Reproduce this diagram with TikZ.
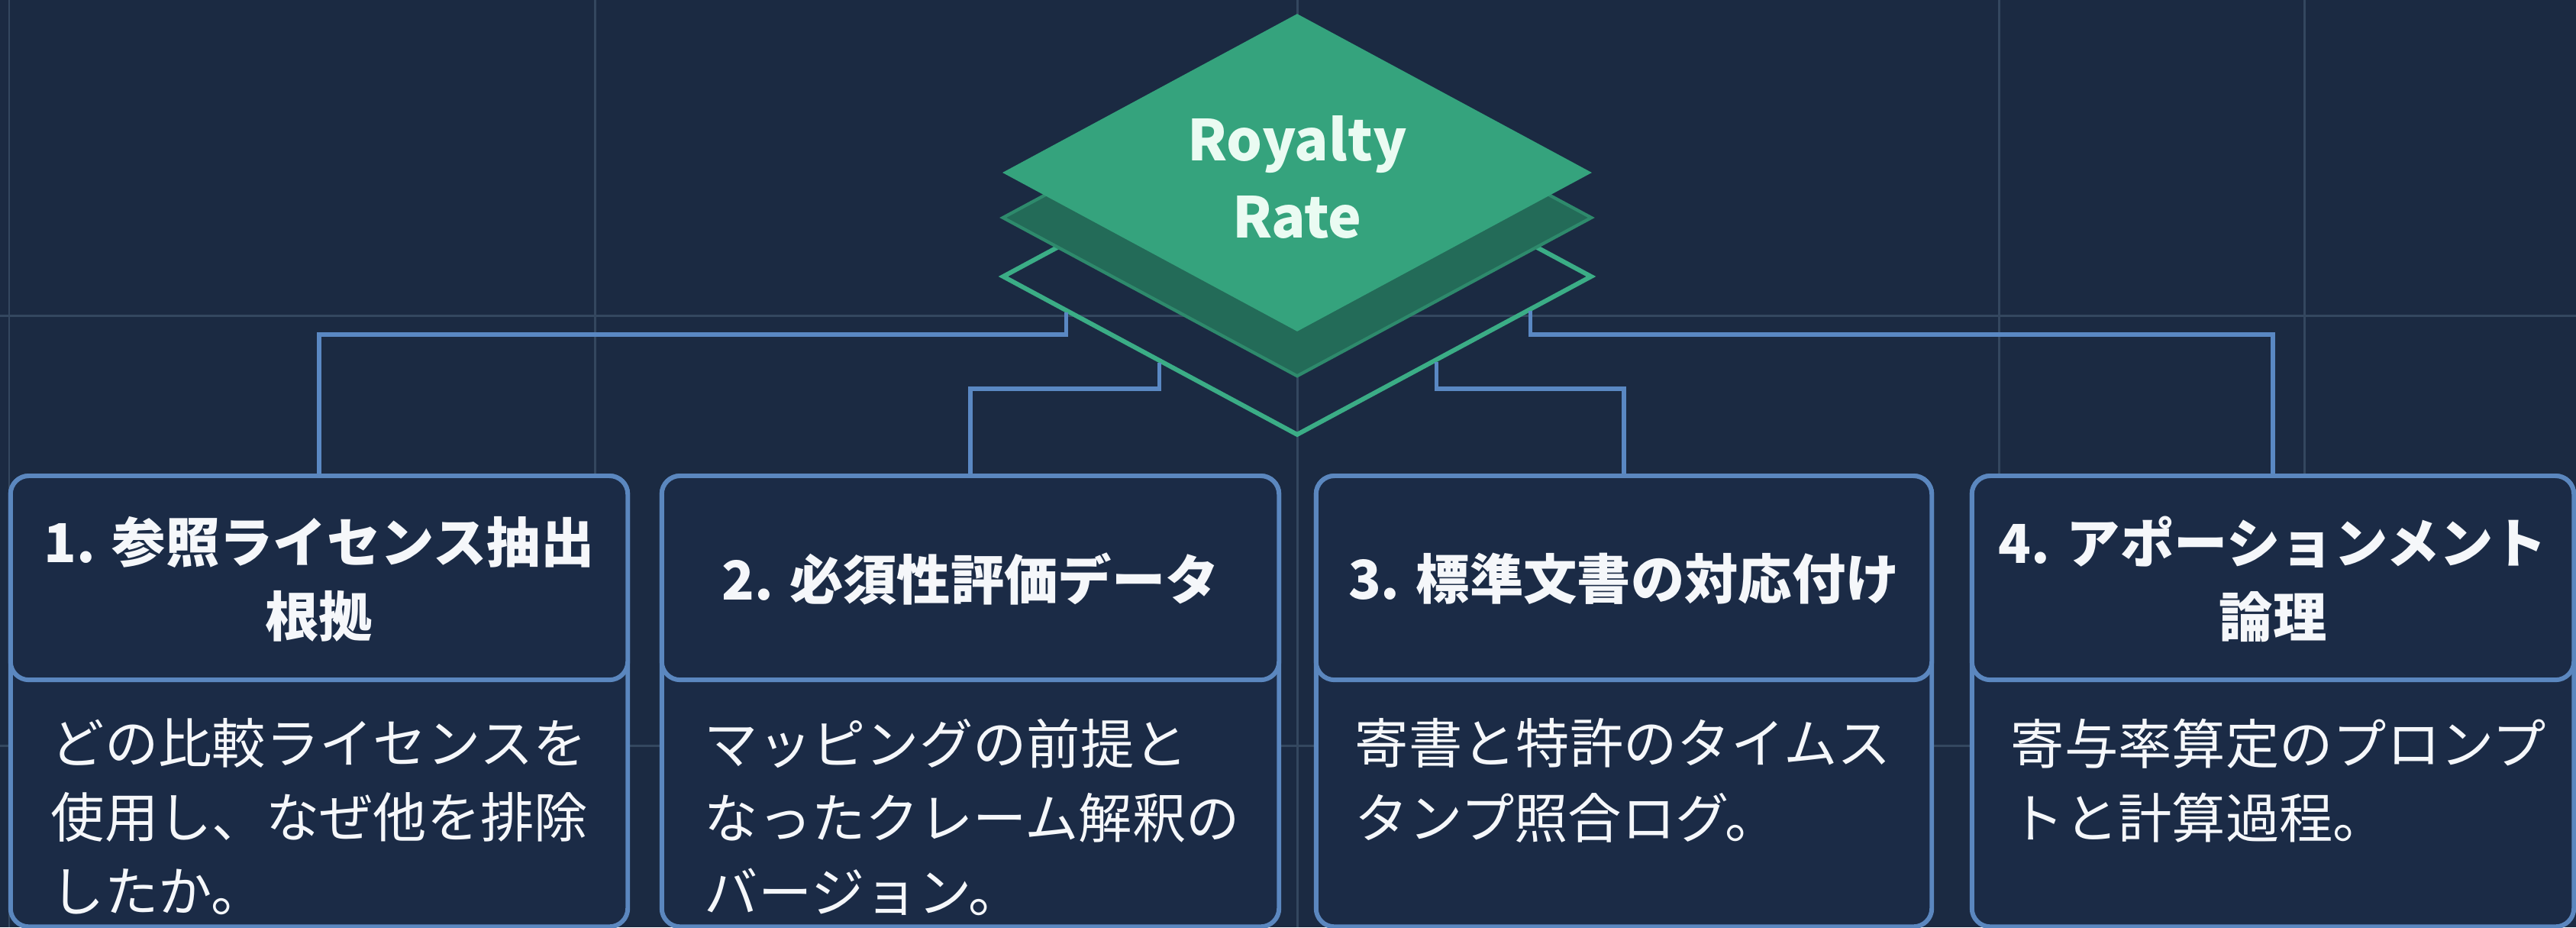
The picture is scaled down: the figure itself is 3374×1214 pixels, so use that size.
\documentclass[tikz,border=0pt]{standalone}
\usepackage{fontspec}
\setmainfont{Noto Sans CJK JP}
\usetikzlibrary{shapes.geometric,calc}
\definecolor{bg}{HTML}{1B2A42}
\definecolor{gridc}{HTML}{34475F}
\definecolor{connc}{HTML}{5A88C3}
\definecolor{boxc}{HTML}{5B87BF}
\definecolor{boxf}{HTML}{1B2B46}
\definecolor{topc}{HTML}{35A37D}
\definecolor{midc}{HTML}{236B58}
\definecolor{midb}{HTML}{2E8A6C}
\definecolor{outc}{HTML}{3BAD86}
\definecolor{textc}{HTML}{F5F7FA}
\definecolor{titlec}{HTML}{EAFBF2}
\tikzset{
  gridline/.style={draw=gridc, line width=0.85pt},
  conn/.style={draw=connc, line width=1.45pt},
  boxo/.style={draw=boxc, fill=boxf, line width=1.7pt, rounded corners=0.24cm, inner sep=0pt, minimum height=5.9cm, anchor=north},
  hdrbox/.style={draw=boxc, fill=boxf, line width=1.7pt, rounded corners=0.24cm, inner sep=0pt, minimum height=2.67cm, anchor=north},
  hdrt/.style={text=textc, font=\bfseries\fontsize{20}{27.6}\selectfont, align=center, inner sep=0pt},
  bodyt/.style={text=textc, font=\fontsize{20}{27.6}\selectfont, align=left, inner sep=0pt, anchor=north west},
  dia/.style={diamond, minimum width=7.72cm, minimum height=4.16cm, inner sep=0pt},
}
\begin{document}
\begin{tikzpicture}[x=0.01cm,y=-0.01cm]
\useasboundingbox (0,0) rectangle (3374,1214);
\fill[bg] (0,0) rectangle (3374,1214);
\clip (0,0) rectangle (3374,1214);
% grid
\foreach \gx in {12,779,1699,2618,3018} \draw[gridline] (\gx,0) -- (\gx,1214);
\foreach \gy in {413,976} \draw[gridline] (0,\gy) -- (3374,\gy);
% boxes (nodes defined first for connectors)
\node[boxo, minimum width=8.08cm] (box1) at (418,620) {};
\node[boxo, minimum width=8.08cm] (box2) at (1271,620) {};
\node[boxo, minimum width=8.06cm] (box3) at (2127,620) {};
\node[boxo, minimum width=7.88cm] (box4) at (2977,620) {};
\node[hdrbox, minimum width=8.08cm] (h1) at (418,620) {};
\node[hdrbox, minimum width=8.08cm] (h2) at (1271,620) {};
\node[hdrbox, minimum width=8.06cm] (h3) at (2127,620) {};
\node[hdrbox, minimum width=7.88cm] (h4) at (2977,620) {};
% diamond layers
\node[dia, draw=outc, line width=1.7pt] (base) at (1699,362) {};
\node[dia, fill=midc, draw=midb, line width=1.2pt] (mid) at (1699,285) {};
\node[dia, fill=topc] (top) at (1699,226) {};
\node[text=titlec, font=\bfseries\fontsize{21}{28.5}\selectfont, align=center, inner sep=0pt] (title) at (1699,232) {Royalty\\Rate};
% connectors
\coordinate (ja) at (0,438);
\coordinate (jb) at (0,509);
\coordinate (d1) at ($(base.west)!0.222!(base.south)$);
\coordinate (d2) at ($(base.west)!0.536!(base.south)$);
\coordinate (d3) at ($(base.east)!0.531!(base.south)$);
\coordinate (d4) at ($(base.east)!0.215!(base.south)$);
\draw[conn] (d1) -- (d1 |- ja) -| (box1.north);
\draw[conn] (d2) -- (d2 |- jb) -| (box2.north);
\draw[conn] (d3) -- (d3 |- jb) -| (box3.north);
\draw[conn] (d4) -- (d4 |- ja) -| (box4.north);
% header texts
\node[hdrt] (t1) at (418,758) {1. 参照ライセンス抽出\\根拠};
\node[hdrt] (t2) at (1271,758) {2. 必須性評価データ};
\node[hdrt] (t3) at (2127,758) {3. 標準文書の対応付け};
\node[hdrt] (t4) at (2977,758) {4. アポーションメント\\論理};
% body texts
\node[bodyt] (b1) at (66,940) {どの比較ライセンスを\\使用し、なぜ他を排除\\したか。};
\node[bodyt] (b2) at (922,940) {マッピングの前提と\\なったクレーム解釈の\\バージョン。};
\node[bodyt] (b3) at (1774,940) {寄書と特許のタイムス\\タンプ照合ログ。};
\node[bodyt] (b4) at (2633,940) {寄与率算定のプロンプ\\トと計算過程。};
\end{tikzpicture}
\end{document}
